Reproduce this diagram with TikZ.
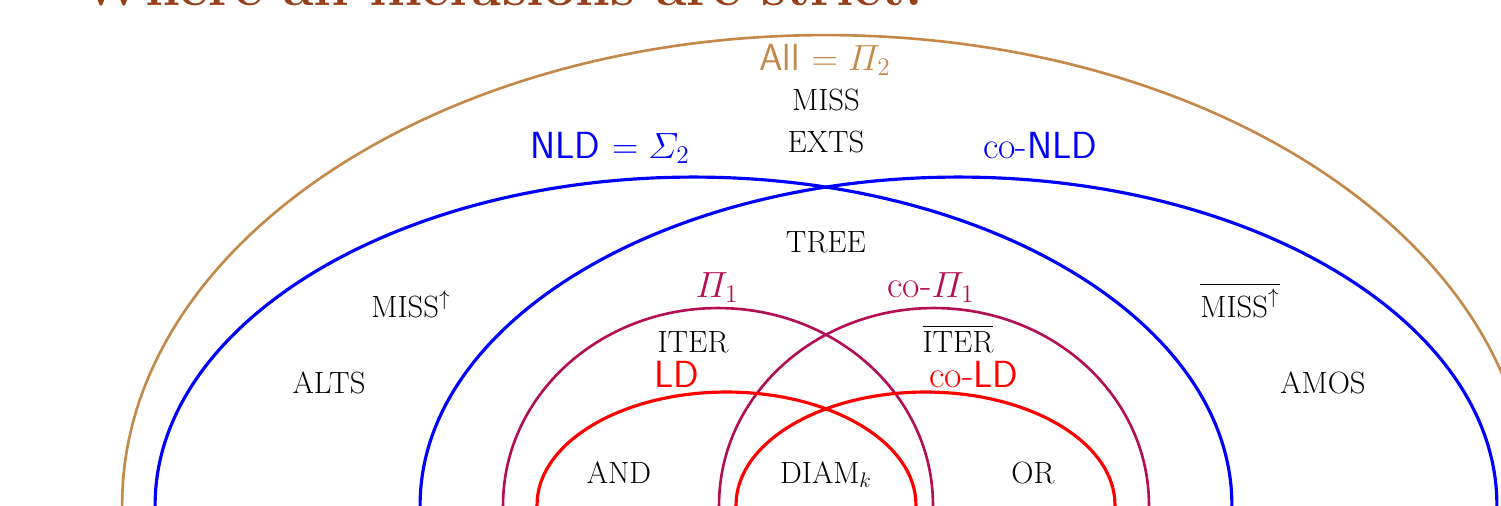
\documentclass[tikz,border=0pt]{standalone}
\usepackage{amsmath}
\definecolor{allbrown}{RGB}{196,136,72}
\definecolor{titlebrown}{RGB}{150,65,25}
\definecolor{pipurple}{RGB}{180,15,85}

\begin{document}
\begin{tikzpicture}[
  x=0.02cm, y=0.02cm,
  ring/.style={line width=1.8pt},
  thinring/.style={line width=1.5pt},
  lab/.style={anchor=base, inner sep=0pt, font=\fontsize{17.5}{20}\selectfont},
  cls/.style={anchor=base, inner sep=0pt, font=\fontsize{21.5}{25}\selectfont\sffamily}
]
\useasboundingbox (0,0) rectangle (1501,505);
\clip (0,0) rectangle (1501,505);

% frame title, only its lower part shows
\node[anchor=base west, inner sep=0pt, text=titlebrown,
  font=\fontsize{31.7}{38}\selectfont\bfseries] (title) at (80,500) {Where all inclusions are strict.};

% centres of the classes
\coordinate (cAll) at (826,0);
\coordinate (cNLD) at (693.5,0);
\coordinate (cCoNLD) at (958.5,0);
\coordinate (cPi) at (718,0);
\coordinate (cCoPi) at (934,0);
\coordinate (cLD) at (726.5,0);
\coordinate (cCoLD) at (925.5,0);

\draw[thinring, allbrown] (cAll) ellipse [x radius=14.08cm, y radius=9.4cm];
\draw[ring, blue] (cNLD) ellipse [x radius=10.77cm, y radius=6.56cm];
\draw[ring, blue] (cCoNLD) ellipse [x radius=10.77cm, y radius=6.56cm];
\draw[thinring, pipurple] (cPi) ellipse [x radius=4.3cm, y radius=3.94cm];
\draw[thinring, pipurple] (cCoPi) ellipse [x radius=4.3cm, y radius=3.94cm];
\draw[ring, red] (cLD) ellipse [x radius=3.79cm, y radius=2.26cm];
\draw[ring, red] (cCoLD) ellipse [x radius=3.79cm, y radius=2.26cm];

% class names
\node[cls, text=allbrown] (allname) at (825,435) {All $= \varPi_2$};
\node[cls, text=blue] (nldname) at (610,347) {NLD $= \varSigma_2$};
\node[cls, text=blue] (conldname) at (1040,347) {\textrm{co-}NLD};
\node[cls, text=pipurple] (piname) at (717,208) {$\varPi_1$};
\node[cls, text=pipurple] (copiname) at (931,208) {\textrm{co-}$\varPi_1$};
\node[cls, text=red] (ldname) at (677,118) {LD};
\node[cls, text=red] (coldname) at (974,118) {\textrm{co-}LD};

% problems
\node[lab] (miss) at (826,395) {MISS};
\node[lab] (exts) at (826,353) {EXTS};
\node[lab] (tree) at (826,253) {TREE};
\node[lab] (missup) at (411,188) {MISS$^{\uparrow}$};
\node[lab] (comissup) at (1240,188) {$\overline{\mbox{MISS}^{\uparrow}}$};
\node[lab] (alts) at (329,112) {ALTS};
\node[lab] (amos) at (1323,112) {AMOS};
\node[lab] (iter) at (693,153) {ITER};
\node[lab] (coiter) at (958,153) {$\overline{\mbox{ITER}}$};
\node[lab] (and) at (619,22) {AND};
\node[lab] (diam) at (826,22) {DIAM$_k$};
\node[lab] (or) at (1033,22) {OR};
\end{tikzpicture}
\end{document}
